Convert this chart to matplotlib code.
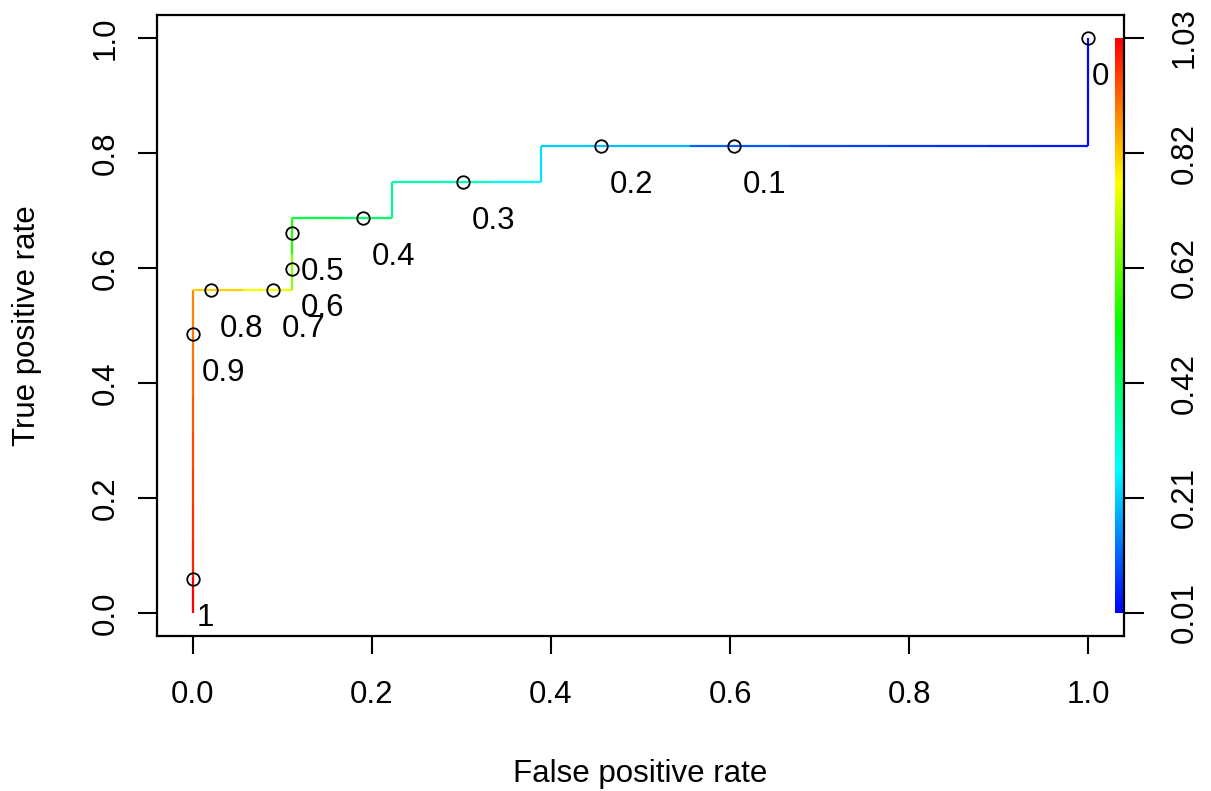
import matplotlib
matplotlib.use('Agg')
import matplotlib.pyplot as plt
import numpy as np
from matplotlib.collections import LineCollection
from matplotlib.colors import ListedColormap, hsv_to_rgb

plt.rcParams['font.family'] = ['Liberation Sans', 'DejaVu Sans']

#====== ROC curve: counts of false / true positives at each step, and the cutoff there
n_neg = 18
n_pos = 16
fp_count = [0, 0, 0, 0, 0, 0, 0, 0, 0, 0, 1, 2, 2, 2, 3, 4, 4, 5, 6, 7, 7, 8, 9, 10, 11,
            12, 13, 14, 15, 16, 17, 18, 18, 18, 18]
tp_count = [0, 1, 2, 3, 4, 5, 6, 7, 8, 9, 9, 9, 10, 11, 11, 11, 12, 12, 12, 12, 13, 13, 13, 13, 13,
            13, 13, 13, 13, 13, 13, 13, 14, 15, 16]
cutoff = [1.03, 0.998, 0.985, 0.97, 0.955, 0.94, 0.925, 0.907, 0.898, 0.82, 0.765, 0.658, 0.556,
          0.458, 0.42, 0.3735, 0.355, 0.33, 0.262, 0.24, 0.22, 0.2027, 0.19, 0.11, 0.0985,
          0.085, 0.075, 0.065, 0.055, 0.045, 0.035, 0.025, 0.02, 0.015, 0.01]

#====== printed cutoffs (circles + labels)
cut_labels = ['1', '0.9', '0.8', '0.7', '0.6', '0.5', '0.4', '0.3', '0.2', '0.1', '0']
cut_fpr = [0.0, 0.0, 0.0201, 0.0894, 0.1111, 0.1111, 0.1904, 0.3021, 0.4563, 0.6041, 1.0]
cut_tpr = [0.0594, 0.486, 0.5625, 0.5625, 0.598, 0.6607, 0.6875, 0.75, 0.8125, 0.8125, 1.0]

#====== axis ticks
xticks = [0.0, 0.2, 0.4, 0.6, 0.8, 1.0]
yticks = [0.0, 0.2, 0.4, 0.6, 0.8, 1.0]
bar_labels = ['0.01', '0.21', '0.42', '0.62', '0.82', '1.03']

fs = 22.5

# R rainbow(256, start=0, end=4/6), reversed -> blue ... red
hues = np.linspace(4 / 6, 0, 256)
rainbow = ListedColormap(hsv_to_rgb(np.column_stack([hues, np.ones(256), np.ones(256)])))

fig = plt.figure(figsize=(12.11, 7.91), dpi=100)
ax = fig.add_axes([157 / 1211, 155 / 791, 967 / 1211, 621 / 791])

fpr = np.array(fp_count) / n_neg
tpr = np.array(tp_count) / n_pos
cut = np.array(cutoff)
cmin, cmax = cut.min(), cut.max()
pts = np.column_stack([fpr, tpr])
segs = np.stack([pts[:-1], pts[1:]], axis=1)
cols = rainbow((cut[:-1] - cmin) / (cmax - cmin))
ax.add_collection(LineCollection(segs, colors=cols, linewidths=1.6, zorder=2))

ax.plot(cut_fpr, cut_tpr, 'o', ms=9, mfc='none', mec='black', mew=1.3, zorder=3)

em = fs * 100 / 72
def text_w(s):
    return sum(0.278 if ch == '.' else 0.556 for ch in s) * em

for lab, x, y in zip(cut_labels, cut_fpr, cut_tpr):
    ax.annotate(lab, (x, y), xytext=(0.2 * text_w(lab), -47), textcoords='offset pixels',
                ha='left', va='baseline', fontsize=fs, zorder=4)

#====== colour bar inside the plot, at the right edge
grad = np.linspace(0, 1, 256).reshape(-1, 1)
ax.imshow(grad, extent=(1.0298, 1.04, 0, 1), aspect='auto', origin='lower', cmap=rainbow, zorder=1)

ax.set_xlim(-0.04, 1.04)
ax.set_ylim(-0.04, 1.04)

for sp in ax.spines.values():
    sp.set_linewidth(1.6)

ax.set_xticks(xticks)
ax.set_xticklabels(['%.1f' % v for v in xticks])
ax.set_yticks(yticks)
ax.set_yticklabels(['%.1f' % v for v in yticks], rotation=90, va='center')
ax.tick_params(axis='x', length=13, width=1.5, pad=19, labelsize=fs)
ax.tick_params(axis='y', length=13.7, width=1.5, pad=12.5, labelsize=fs)

ax2 = ax.twinx()
ax2.set_ylim(ax.get_ylim())
ax2.set_yticks(yticks)
ax2.set_yticklabels(bar_labels, rotation=90, va='center')
ax2.tick_params(axis='y', length=14.4, width=1.5, pad=18.5, labelsize=fs)
for sp in ax2.spines.values():
    sp.set_visible(False)

fig.text(640.5 / 1211, 9 / 791, 'False positive rate', ha='center', va='baseline', fontsize=fs)
fig.text(27 / 1211, (791 - 325.5) / 791, 'True positive rate', ha='center', va='center',
         rotation=90, fontsize=fs)

fig.savefig('out.png', dpi=100)
